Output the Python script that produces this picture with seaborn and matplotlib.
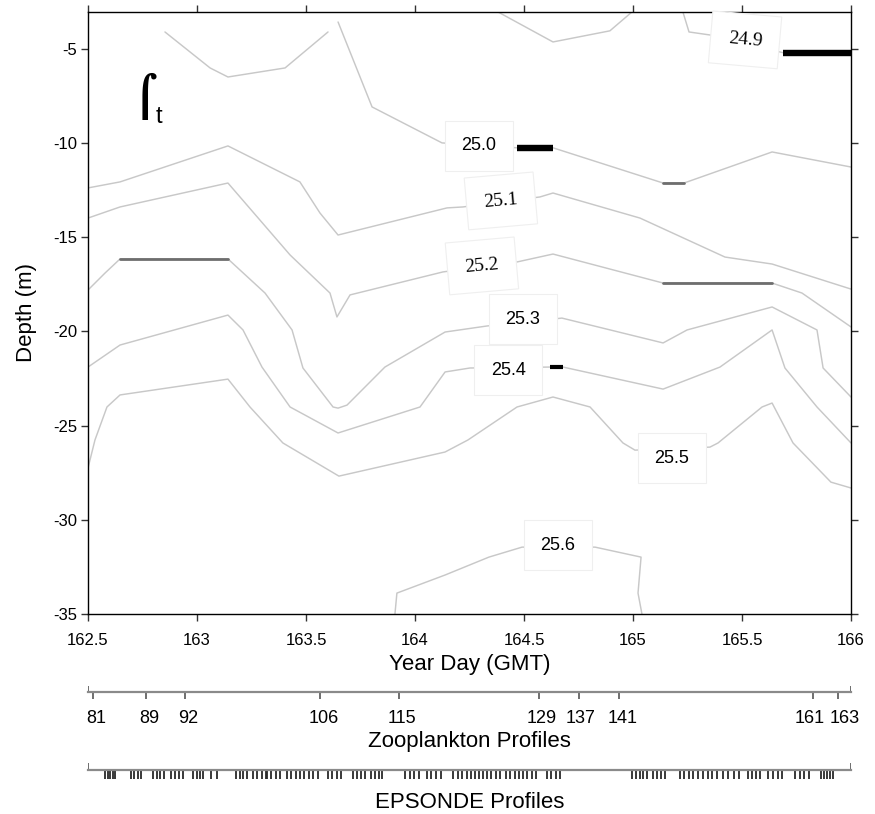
import numpy as np
import pandas as pd
import matplotlib
matplotlib.use("Agg")
import matplotlib.pyplot as plt
import matplotlib.transforms as mtransforms
import seaborn as sns

# ---------------------------------------------------------------
# Isopycnal depths (m) against year day (GMT); sigma-t levels
# ---------------------------------------------------------------
day_249a = [165.229, 165.257, 165.353, 165.688, 166.0]
dep_249a = [-3.04, -4.10, -4.26, -5.20, -5.20]
day_249b = [164.381, 164.633, 164.894, 164.995]
dep_249b = [-3.04, -4.63, -4.04, -3.04]

day_250a = [163.647, 163.803, 164.124, 164.468, 164.633, 165.138, 165.234, 165.638, 166.0]
dep_250a = [-3.57, -8.08, -9.99, -10.25, -10.25, -12.12, -12.12, -10.47, -11.27]
day_250b = [162.853, 163.060, 163.142, 163.404, 163.601]
dep_250b = [-4.10, -6.01, -6.49, -6.01, -4.10]

day_251 = [162.5, 162.647, 163.142, 163.472, 163.564, 163.647, 164.147, 164.220,
           164.573, 164.633, 165.032, 165.422, 165.638, 166.0]
dep_251 = [-12.38, -12.06, -10.15, -12.06, -13.71, -14.88, -13.44, -13.39,
           -12.86, -12.65, -13.98, -16.05, -16.42, -17.75]

day_252 = [162.5, 162.647, 163.142, 163.427, 163.610, 163.642, 163.702, 164.128,
           164.468, 164.633, 165.138, 165.638, 165.775, 166.0]
dep_252 = [-13.98, -13.39, -12.12, -15.94, -17.96, -19.23, -18.06, -16.84,
           -16.31, -15.89, -17.43, -17.43, -17.96, -19.76]

day_253 = [162.5, 162.578, 162.647, 163.142, 163.312, 163.436, 163.486, 163.624,
           163.647, 163.688, 163.862, 164.138, 164.330, 164.674, 165.138, 165.248,
           165.638, 165.844, 165.872, 166.0]
dep_253 = [-17.80, -16.90, -16.15, -16.15, -17.96, -19.92, -21.94, -24.01,
           -24.07, -23.91, -21.89, -20.03, -19.71, -19.29, -20.61, -19.92,
           -18.70, -19.92, -21.94, -23.48]

day_254 = [162.5, 162.647, 163.142, 163.211, 163.298, 163.427, 163.647, 164.023,
           164.138, 164.252, 164.619, 164.679, 165.138, 165.399, 165.638, 165.697,
           165.844, 166.0]
dep_254 = [-21.89, -20.72, -19.13, -19.92, -21.89, -24.01, -25.39, -24.01,
           -22.15, -21.94, -21.89, -21.89, -23.06, -21.89, -19.92, -21.94,
           -24.01, -25.92]

day_255 = [162.5, 162.532, 162.587, 162.647, 163.142, 163.243, 163.394, 163.651,
           164.138, 164.243, 164.468, 164.633, 164.803, 164.954, 165.009, 165.353,
           165.390, 165.592, 165.638, 165.734, 165.908, 166.0]
dep_255 = [-27.25, -25.76, -24.01, -23.37, -22.53, -24.01, -25.92, -27.68,
           -26.40, -25.76, -24.01, -23.48, -24.01, -25.92, -26.30, -26.14,
           -25.92, -24.01, -23.80, -25.92, -28.00, -28.31]

day_256 = [163.908, 163.917, 164.138, 164.339, 164.491, 164.826, 165.037, 165.023, 165.041]
dep_256 = [-35.0, -33.89, -32.93, -31.98, -31.45, -31.45, -31.98, -33.89, -35.0]

# Contour label text, positions (day, depth) and tilt
label_text = ["24.9", "25.0", "25.1", "25.2", "25.3", "25.4", "25.5", "25.6"]
label_day = [165.514, 164.294, 164.394, 164.307, 164.495, 164.427, 165.179, 164.656]
label_dep = [-4.52, -10.15, -13.07, -16.52, -19.34, -22.05, -26.72, -31.34]
label_rot = [-5, 0, 5, 5, 0, 0, 0, 0]
label_serif = [True, False, True, True, False, False, False, False]

# Zooplankton net profiles: profile number and year day
zoo_num = [81, 89, 92, 106, 115, 129, 137, 141, 161, 163]
zoo_day = [162.524, 162.766, 162.945, 163.566, 163.928, 164.569, 164.752,
           164.937, 165.827, 165.942]

# EPSONDE microstructure profile times (year day)
eps_day = [
    162.578, 162.590, 162.602, 162.614, 162.626,
    162.696, 162.712, 162.728, 162.744,
    162.798, 162.815, 162.832, 162.849,
    162.879, 162.897, 162.916, 162.934,
    162.983, 162.998, 163.014, 163.029,
    163.066, 163.093,
    163.178, 163.196, 163.213, 163.231,
    163.258, 163.277, 163.296, 163.315,
    163.320, 163.340, 163.361, 163.381,
    163.411, 163.431, 163.452, 163.472,
    163.492, 163.513, 163.533, 163.554,
    163.602, 163.621, 163.640, 163.659,
    163.717, 163.735, 163.753, 163.771,
    163.798, 163.815, 163.833, 163.850,
    163.954, 163.975, 163.997, 164.018,
    164.054, 164.075, 164.097, 164.118,
    164.176, 164.196, 164.217, 164.237,
    164.257, 164.276, 164.294, 164.313,
    164.329, 164.349, 164.370, 164.390,
    164.416, 164.436, 164.457, 164.477,
    164.497, 164.516, 164.535, 164.554,
    164.604, 164.624, 164.645, 164.665,
    164.997, 165.013, 165.030, 165.046, 165.063,
    165.093, 165.111, 165.129, 165.147,
    165.216, 165.236, 165.257, 165.277,
    165.300, 165.321, 165.342, 165.363, 165.384,
    165.414, 165.438, 165.462, 165.486,
    165.529, 165.547, 165.564, 165.582,
    165.621, 165.642, 165.664, 165.685,
    165.743, 165.764, 165.786, 165.807,
    165.862, 165.876, 165.890, 165.905, 165.919,
]

# ---------------------------------------------------------------
sns.set_theme(style="white")
plt.rcParams["font.family"] = ["Liberation Sans", "DejaVu Sans"]
plt.rcParams["axes.unicode_minus"] = False
plt.rcParams["text.color"] = "black"
plt.rcParams["axes.labelcolor"] = "black"

W, H = 875, 814
fig = plt.figure(figsize=(W / 100, H / 100), dpi=100)
ax = fig.add_axes([88 / W, 1 - 614 / H, 763 / W, 602 / H])

pieces = [
    ("249a", day_249a, dep_249a), ("249b", day_249b, dep_249b),
    ("250a", day_250a, dep_250a), ("250b", day_250b, dep_250b),
    ("251", day_251, dep_251), ("252", day_252, dep_252),
    ("253", day_253, dep_253), ("254", day_254, dep_254),
    ("255", day_255, dep_255), ("256", day_256, dep_256),
]
iso = pd.concat(
    [pd.DataFrame({"day": d, "depth": z, "piece": name}) for name, d, z in pieces],
    ignore_index=True,
)
sns.lineplot(data=iso, x="day", y="depth", units="piece", estimator=None,
             sort=False, color="#c8c8c8", lw=1.05, legend=False, ax=ax, zorder=2)

# flat stretches of the isopycnals that plot heavier
flat_gray = [(day_252[10:12], dep_252[10:12]), (day_253[2:4], dep_253[2:4]),
             (day_250a[5:7], dep_250a[5:7])]
flat_black = [(day_249a[3:5], dep_249a[3:5], 4.6), (day_250a[3:5], dep_250a[3:5], 4.6),
              (day_254[10:12], dep_254[10:12], 3.0)]
for d, z in flat_gray:
    sns.lineplot(x=d, y=z, color="#6e6e6e", lw=2.0, ax=ax, zorder=3,
                 estimator=None, sort=False)
for d, z, w in flat_black:
    sns.lineplot(x=d, y=z, color="black", lw=w, ax=ax, zorder=3,
                 estimator=None, sort=False, solid_capstyle="butt")

for t, x, y, r, serif in zip(label_text, label_day, label_dep, label_rot, label_serif):
    fam = ["Liberation Serif", "DejaVu Serif"] if serif else ["Liberation Sans", "DejaVu Sans"]
    ax.text(x, y, t, ha="center", va="center", rotation=r, fontsize=14 if serif else 13,
            family=fam, color="black", zorder=6,
            bbox=dict(boxstyle="square,pad=0.9", fc="white", ec="#efefef", lw=0.8))

# sigma-t tag
ax.text(0.058, 0.86, "\u2320", transform=ax.transAxes, fontsize=29,
        family=["DejaVu Sans"], fontweight="bold", ha="left", va="center", color="black")
ax.text(0.088, 0.826, "t", transform=ax.transAxes, fontsize=17,
        ha="left", va="center", color="black")

ax.set_xlim(162.5, 166.0)
ax.set_ylim(-35, -3.04)
xt = [162.5, 163, 163.5, 164, 164.5, 165, 165.5, 166]
ax.set_xticks(xt)
ax.set_xticklabels([f"{v:g}" for v in xt])
yt = [-5, -10, -15, -20, -25, -30, -35]
ax.set_yticks(yt)
ax.set_yticklabels([f"{v:d}" for v in yt])
ax.tick_params(direction="out", length=5, width=1.0, color="#333333",
               labelcolor="black", top=True, right=True, bottom=True, left=True,
               labelsize=12)
ax.tick_params(axis="x", pad=9)
ax.tick_params(axis="y", pad=3)
for s in ax.spines.values():
    s.set_color("black")
    s.set_linewidth(1.0)
ax.set_xlabel("Year Day (GMT)", fontsize=16, labelpad=4)
ax.set_ylabel("Depth (m)", fontsize=16, labelpad=11)


def profile_axis(ypx, up_px):
    a = fig.add_axes([88 / W, 1 - ypx / H, 763 / W, up_px / H])
    a.set_xlim(162.5, 166.0)
    a.set_ylim(0, 1)
    for s in ("left", "right", "top"):
        a.spines[s].set_visible(False)
    a.set_yticks([])
    a.patch.set_alpha(0)
    return a


zoo = profile_axis(691.5, 6)
zoo.spines["bottom"].set_color("#8a8a8a")
zoo.spines["bottom"].set_linewidth(1.6)
zoo.set_xticks(zoo_day)
zoo.set_xticklabels([str(n) for n in zoo_num])
zoo.tick_params(axis="x", bottom=True, direction="out", length=5, width=1.2,
                color="#555555", labelcolor="black", labelsize=13, pad=8)
# nudge the crowded number labels apart
nudge_px = [3, 3, 3, 3, 3, 3, 2, 3, -4, 6]
for lab, dx in zip(zoo.get_xticklabels(), nudge_px):
    lab.set_transform(lab.get_transform() +
                      mtransforms.ScaledTranslation(dx / 100, 0, fig.dpi_scale_trans))
for e in zoo.get_xlim():
    zoo.axvline(e, color="#555555", lw=1.2)
zoo.set_xlabel("Zooplankton Profiles", fontsize=16, labelpad=3)

eps = profile_axis(769.5, 7)
eps.spines["bottom"].set_color("#8a8a8a")
eps.spines["bottom"].set_linewidth(1.6)
eps.set_xticks(eps_day)
eps.set_xticklabels([])
eps.tick_params(axis="x", bottom=True, direction="out", length=6.5, width=1.3,
                color="#2a2a2a")
for e in eps.get_xlim():
    eps.axvline(e, color="#555555", lw=1.2)
eps.set_xlabel("EPSONDE Profiles", fontsize=16, labelpad=6)

fig.savefig("out.png", dpi=100, facecolor="white")
